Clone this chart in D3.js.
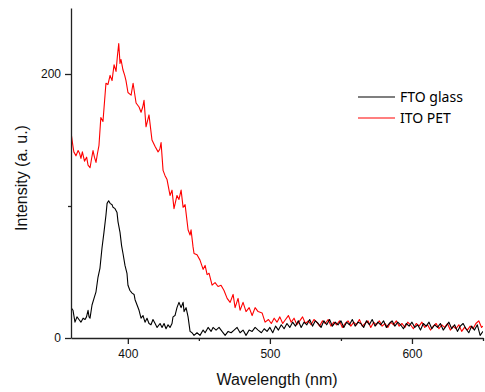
<!DOCTYPE html>
<html>
<head>
<meta charset="utf-8">
<script src="https://cdn.jsdelivr.net/npm/d3@7"></script>
<style>
  body { margin: 0; background: #fff; }
  svg { display: block; }
</style>
</head>
<body>
<div id="chart"></div>
<script>
// FTO glass spectrum (black)
const ftoWavelength = [360, 361.4, 362.8, 364.2, 365.6, 367, 368.5, 369.9, 370.9, 372, 372.7, 373.4, 374.8, 376.2, 377.6, 379, 380.4, 381.8, 383.2, 384.6, 385.4, 386.5, 387.5, 388.9, 389.6, 391, 392.4, 393.1, 394.5, 395.6, 396.6, 398, 399.4, 400.1, 401.5, 403, 404.4, 405.1, 406.5, 407.9, 409.3, 410.7, 412.1, 413.5, 414.9, 416.3, 417.7, 419.2, 420.6, 422.7, 424.1, 425.5, 426.9, 428.3, 429.7, 431.1, 431.8, 433.2, 434.6, 436, 437.5, 438.9, 439.6, 441, 442.4, 443.8, 445.2, 446.6, 448.7, 450.8, 453, 454.4, 456.5, 458.6, 460, 462.1, 464.2, 466.3, 468.5, 470.6, 472.7, 474.8, 476.9, 479, 481.1, 483.2, 485.4, 487.5, 489.6, 491.7, 494, 496, 498, 500, 502, 504, 506, 508, 510, 512, 514, 516, 518, 520, 522, 524, 526, 528, 530, 532, 534, 536, 538, 540, 542, 544, 546, 548, 550, 552, 554, 556, 558, 560, 562, 564, 566, 568, 570, 572, 574, 576, 578, 580, 582, 584, 586, 588, 590, 592, 594, 596, 598, 600, 602, 604, 606, 608, 610, 612, 614, 616, 618, 620, 622, 624, 626, 628, 630, 632, 634, 636, 638, 640, 642, 644, 646, 648, 650];
const ftoIntensity = [23, 21, 12, 16, 14, 12, 15, 14, 16, 21, 16, 15, 25, 30, 35, 46, 53, 68, 80, 93, 102, 104, 102, 101, 99, 98, 95, 88, 80, 70, 64, 55, 49, 40, 36, 34, 33, 29, 25, 21, 15, 17, 12, 15, 11, 10, 14, 11, 8, 11, 8, 11, 7, 10, 8, 11, 16, 17, 23, 27, 23, 27, 20, 23, 16, 5, 4, 2, 4, 2, 6, 4, 8, 5, 8, 6, 8, 5, 2, 5, 4, 6, 8, 4, 6, 2, 6, 5, 8, 6, 4, 7, 5, 8, 4, 9, 6, 10, 7, 11, 8, 12, 9, 13, 8, 12, 10, 14, 9, 13, 11, 8, 13, 10, 14, 9, 12, 10, 13, 8, 12, 10, 14, 9, 12, 11, 8, 13, 10, 14, 9, 12, 10, 13, 8, 11, 13, 9, 12, 10, 7, 11, 9, 12, 8, 10, 6, 11, 9, 12, 7, 10, 8, 11, 6, 9, 12, 7, 10, 5, 9, 11, 7, 4, 9, 6, 10, 2, 5];

// ITO PET spectrum (red)
const itoWavelength = [360, 361, 362, 363.5, 365, 366, 367, 368, 369.5, 371, 372, 373.4, 374.5, 375.5, 376.5, 377.6, 378.5, 379.7, 381, 382.5, 384.6, 386, 387.5, 388.9, 390.3, 391.7, 392.7, 393.6, 394.5, 395.2, 396.6, 397.8, 398.7, 400.1, 401.2, 402.3, 403.7, 405.8, 407.9, 409.3, 410.5, 411.4, 412.8, 414.9, 417, 419.2, 421.3, 422.5, 423.4, 424.8, 426.2, 427.6, 429.7, 431.1, 432.5, 434.6, 436, 437.5, 438.9, 440.3, 442.4, 443.8, 444.5, 445.9, 446.6, 448.7, 450.8, 453, 454.4, 455.8, 457.2, 459.3, 461.4, 463.5, 465.6, 467.7, 469.9, 472, 474.1, 475.5, 477.6, 479, 481.1, 483.2, 485.4, 487.5, 489.6, 491.7, 494.5, 496.6, 499, 501, 503, 505, 507, 509, 511, 513, 515, 517, 519, 521, 523, 525, 527, 529, 531, 533, 535, 537, 539, 541, 543, 545, 547, 549, 551, 553, 555, 557, 559, 561, 563, 565, 567, 569, 571, 573, 575, 577, 579, 581, 583, 585, 587, 589, 591, 593, 595, 597, 599, 601, 603, 605, 607, 609, 611, 613, 615, 617, 619, 621, 623, 625, 627, 629, 631, 633, 635, 637, 639, 641, 643, 645, 647, 649, 650];
const itoIntensity = [156, 148, 141, 138, 142, 140, 136, 141, 134, 137, 131, 129, 136, 142, 137, 133, 139, 146, 167, 164, 193, 192, 199, 195, 207, 202, 214, 223, 208, 211, 203, 199, 195, 186, 185, 184, 193, 178, 175, 171, 175, 180, 160, 169, 150, 145, 141, 143, 148, 127, 123, 120, 108, 112, 98, 108, 105, 112, 99, 101, 82, 78, 82, 69, 64, 63, 59, 52, 55, 48, 49, 40, 42, 39, 40, 36, 30, 27, 33, 23, 30, 21, 27, 20, 23, 17, 23, 20, 19, 12, 14, 11, 15, 12, 16, 11, 14, 17, 12, 15, 10, 13, 16, 11, 13, 10, 14, 12, 9, 13, 11, 14, 9, 12, 10, 13, 8, 11, 13, 9, 12, 10, 14, 9, 11, 13, 8, 12, 10, 13, 9, 11, 8, 12, 10, 13, 9, 11, 8, 12, 10, 7, 11, 9, 12, 8, 10, 6, 9, 11, 7, 10, 8, 11, 6, 9, 7, 10, 5, 8, 6, 9, 7, 11, 13, 8, 9];

const xMajorTicks = [400, 500, 600];
const xMinorTicks = [450, 550, 650];
const yMajorTicks = [0, 200];
const yMinorTicks = [100];

const seriesNames = ["FTO glass", "ITO PET"];
const seriesColors = ["#000000", "#ff0000"];

const width = 485;
const height = 392;
const margin = { top: 8, right: 2, bottom: 54, left: 71 };

const svg = d3.select("#chart")
  .append("svg")
  .attr("width", width)
  .attr("height", height);

const x = d3.scaleLinear()
  .domain([360, 650])
  .range([margin.left, width - margin.right]);

const y = d3.scaleLinear()
  .domain([0, 250])
  .range([height - margin.bottom, margin.top]);

svg.append("clipPath")
  .attr("id", "plot-clip")
  .append("rect")
  .attr("x", margin.left)
  .attr("y", margin.top)
  .attr("width", width - margin.right - margin.left)
  .attr("height", height - margin.bottom - margin.top);

//Builds the two series from the arrays
const series = [
  ftoWavelength.map((w, i) => ({ w: w, v: ftoIntensity[i] })),
  itoWavelength.map((w, i) => ({ w: w, v: itoIntensity[i] }))
];

const line = d3.line()
  .x(d => x(d.w))
  .y(d => y(d.v));

// Draw ITO first so black sits on top in the tail, like the original
[1, 0].forEach(function (k) {
  svg.append("path")
    .datum(series[k])
    .attr("clip-path", "url(#plot-clip)")
    .attr("fill", "none")
    .attr("stroke", seriesColors[k])
    .attr("stroke-width", 1.1)
    .attr("stroke-linejoin", "round")
    .attr("d", line);
});

//Axes
const axisColor = "#222";
svg.append("g")
  .attr("transform", `translate(0,${height - margin.bottom})`)
  .call(d3.axisBottom(x).tickValues(xMajorTicks).tickSize(6).tickSizeOuter(0).tickPadding(5));

svg.append("g")
  .attr("transform", `translate(0,${height - margin.bottom})`)
  .call(d3.axisBottom(x).tickValues(xMinorTicks).tickSize(3).tickSizeOuter(0).tickFormat(""))
  .select(".domain").remove();

svg.append("g")
  .attr("transform", `translate(${margin.left},0)`)
  .call(d3.axisLeft(y).tickValues(yMajorTicks).tickSize(6).tickSizeOuter(0).tickPadding(4));

svg.append("g")
  .attr("transform", `translate(${margin.left},0)`)
  .call(d3.axisLeft(y).tickValues(yMinorTicks).tickSize(3).tickSizeOuter(0).tickFormat(""))
  .select(".domain").remove();

svg.selectAll(".domain, .tick line")
  .attr("stroke", axisColor)
  .attr("stroke-width", 1.3);

svg.selectAll(".tick text")
  .attr("fill", "#111")
  .style("font-family", "Liberation Sans, Arial, sans-serif")
  .style("font-size", "12px");

//Axis titles
svg.append("text")
  .attr("x", (margin.left + width - margin.right) / 2)
  .attr("y", 385)
  .attr("text-anchor", "middle")
  .attr("fill", "#111")
  .style("font-family", "Liberation Sans, Arial, sans-serif")
  .style("font-size", "16px")
  .text("Wavelength (nm)");

svg.append("text")
  .attr("transform", `translate(27,${(margin.top + height - margin.bottom) / 2 + 5}) rotate(-90)`)
  .attr("text-anchor", "middle")
  .attr("fill", "#111")
  .style("font-family", "Liberation Sans, Arial, sans-serif")
  .style("font-size", "16px")
  .text("Intensity (a. u.)");

//Legend
const legend = svg.append("g");
seriesNames.forEach(function (name, i) {
  const ly = 97 + i * 21;
  legend.append("line")
    .attr("x1", 358).attr("x2", 395)
    .attr("y1", ly).attr("y2", ly)
    .attr("stroke", seriesColors[i])
    .attr("stroke-width", 1.2);
  legend.append("text")
    .attr("x", 400)
    .attr("y", ly + 5)
    .attr("fill", "#000")
    .style("font-family", "Noto Sans, sans-serif")
    .style("font-size", "14px")
    .text(name);
});
</script>
</body>
</html>
